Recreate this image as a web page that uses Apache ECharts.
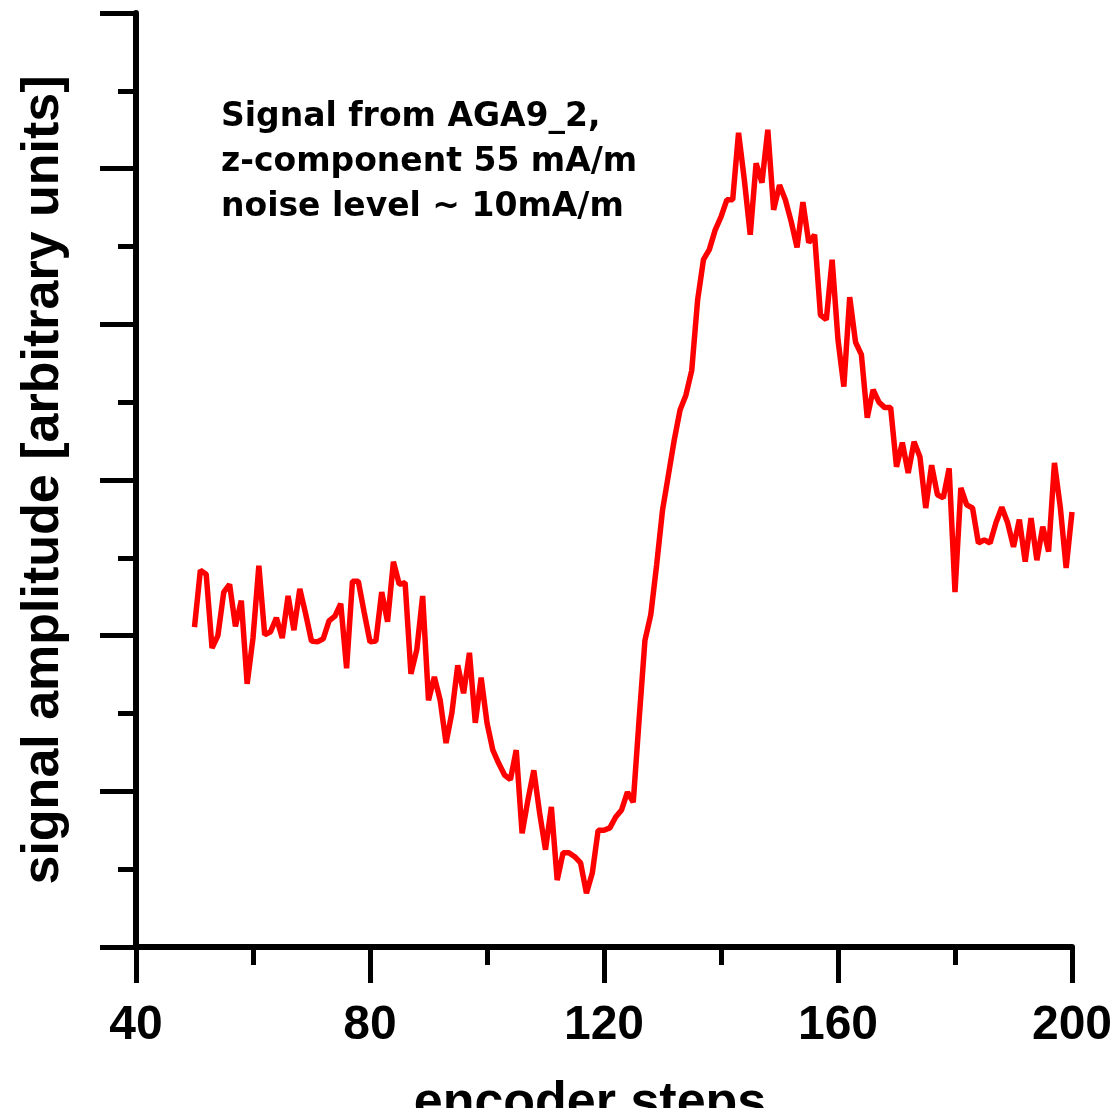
<!DOCTYPE html>
<html>
<head>
<meta charset="utf-8">
<script src="https://cdn.jsdelivr.net/npm/echarts@6/dist/echarts.min.js"></script>
<style>
  html, body { margin: 0; padding: 0; background: #ffffff; }
  #chart { width: 1119px; height: 1108px; }
</style>
</head>
<body>
<div id="chart"></div>
<script>
// encoder steps (x values)
var encoderSteps = [
  50,51,52,53,54,55,56,57,58,59,60,61,62,63,64,65,66,67,68,69,
  70,71,72,73,74,75,76,77,78,79,80,81,82,83,84,85,86,87,88,89,
  90,91,92,93,94,95,96,97,98,99,100,101,102,103,104,105,106,107,108,109,
  110,111,112,113,114,115,116,117,118,119,120,121,122,123,124,125,126,127,128,129,
  130,131,132,133,134,135,136,137,138,139,140,141,142,143,144,145,146,147,148,149,
  150,151,152,153,154,155,156,157,158,159,160,161,162,163,164,165,166,167,168,169,
  170,171,172,173,174,175,176,177,178,179,180,181,182,183,184,185,186,187,188,189,
  190,191,192,193,194,195,196,197,198,199,200
];
// signal amplitude (arbitrary units)
var amplitude = [
  4.11,4.84,4.79,3.84,4.00,4.56,4.66,4.12,4.45,3.38,3.97,4.90,4.01,4.05,4.23,3.97,4.51,4.07,4.60,4.28,
  3.93,3.92,3.96,4.19,4.25,4.41,3.58,4.70,4.70,4.30,3.92,3.93,4.56,4.18,4.95,4.66,4.68,3.51,3.82,4.51,
  3.17,3.47,3.17,2.62,3.01,3.62,3.26,3.78,2.88,3.46,2.88,2.53,2.36,2.21,2.15,2.53,1.46,1.89,2.27,1.72,
  1.25,1.80,0.86,1.21,1.21,1.16,1.08,0.69,0.95,1.50,1.50,1.53,1.67,1.76,1.99,1.86,2.92,3.94,4.27,4.91,
  5.61,6.06,6.51,6.90,7.09,7.41,8.31,8.83,8.96,9.21,9.38,9.60,9.60,10.46,9.85,9.15,10.07,9.82,10.50,9.47,
  9.79,9.60,9.32,8.99,9.57,9.05,9.15,8.12,8.06,8.83,7.80,7.20,8.35,7.77,7.61,6.80,7.16,7.00,6.93,6.93,
  6.17,6.48,6.09,6.49,6.30,5.64,6.19,5.81,5.77,6.15,4.56,5.90,5.68,5.64,5.19,5.23,5.19,5.45,5.65,5.45,
  5.14,5.49,4.95,5.51,4.97,5.40,5.08,6.22,5.65,4.87,5.59
];
var xTickLabels = [40, 80, 120, 160, 200];
var annotationLines = ["Signal from AGA9_2,", "z-component 55 mA/m", "noise level ~ 10mA/m"];
var xTitle = "encoder steps";
var yTitle = "signal amplitude [arbitrary units]";

var seriesData = encoderSteps.map(function (x, i) { return [x, amplitude[i]]; });

var chart = echarts.init(document.getElementById('chart'), null, { renderer: 'canvas' });
var axisColor = '#000000';
chart.setOption({
  animation: false,
  backgroundColor: '#ffffff',
  grid: { left: 136, right: 47, top: 13, bottom: 161, containLabel: false, outerBoundsMode: 'none' },
  xAxis: {
    type: 'value',
    min: xTickLabels[0],
    max: xTickLabels[xTickLabels.length - 1],
    interval: xTickLabels[1] - xTickLabels[0],
    name: xTitle,
    nameLocation: 'middle',
    nameGap: 131,
    nameTextStyle: { fontFamily: 'Liberation Sans', fontWeight: 'bold', fontSize: 52, color: '#000', padding: [0, 28, 0, 0] },
    axisLine: { show: true, onZero: false, lineStyle: { color: axisColor, width: 6 } },
    axisTick: { show: true, inside: false, length: 36, lineStyle: { color: axisColor, width: 5 } },
    minorTick: { show: true, splitNumber: 2, length: 18, lineStyle: { color: axisColor, width: 5 } },
    splitLine: { show: false },
    minorSplitLine: { show: false },
    axisLabel: {
      show: true, margin: 55, fontFamily: 'Liberation Sans', fontWeight: 'bold', fontSize: 48, color: '#000',
      formatter: function (v) { return String(v); }
    }
  },
  yAxis: {
    type: 'value',
    min: 0,
    max: 12,
    interval: 2,
    name: yTitle,
    nameLocation: 'middle',
    nameRotate: 90,
    nameGap: 66,
    nameTextStyle: { fontFamily: 'Liberation Sans', fontWeight: 'bold', fontSize: 52, color: '#000' },
    axisLine: { show: true, onZero: false, lineStyle: { color: axisColor, width: 6 } },
    axisTick: { show: true, inside: false, length: 36, lineStyle: { color: axisColor, width: 5 } },
    minorTick: { show: true, splitNumber: 2, length: 18, lineStyle: { color: axisColor, width: 5 } },
    splitLine: { show: false },
    minorSplitLine: { show: false },
    axisLabel: { show: false }
  },
  graphic: [{
    type: 'text',
    left: 221,
    top: 95,
    style: {
      text: annotationLines.join('\n'),
      fontFamily: 'DejaVu Sans',
      fontWeight: 'bold',
      fontSize: 33,
      lineHeight: 45,
      fill: '#000'
    }
  }],
  series: [{
    type: 'line',
    data: seriesData,
    showSymbol: false,
    symbol: 'none',
    smooth: false,
    lineStyle: { color: '#ff0000', width: 5.5 },
    itemStyle: { color: '#ff0000' }
  }]
});
</script>
</body>
</html>
